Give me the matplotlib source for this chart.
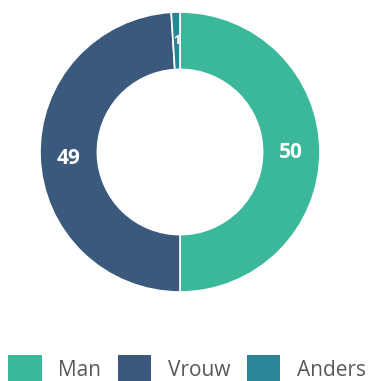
import matplotlib.pyplot as plt
from matplotlib.patches import Patch

labels = ['Man', 'Vrouw', 'Anders']
values = [50, 49, 1]
colors = ['#3bb89a', '#3a597d', '#2b8598']

plt.rcParams['font.family'] = ['Open Sans', 'DejaVu Sans']

fig = plt.figure(figsize=(3.69, 3.81), dpi=100)
ax = fig.add_axes([40 / 369, 89 / 381, 280 / 369, 280 / 381])

wedges, texts, autotexts = ax.pie(
    values, colors=colors, startangle=90, counterclock=False,
    autopct=lambda p: f'{p:.0f}', pctdistance=0.795,
    wedgeprops=dict(width=0.41, edgecolor='white', linewidth=1.2),
)
for t, v in zip(autotexts, values):
    t.set_color('white')
    t.set_fontweight('bold')
    t.set_fontsize(15 if v > 5 else 9)
# small nudge on the left label
x, y = autotexts[1].get_position()
autotexts[1].set_position((x, y - 0.02))
ax.set_aspect('equal')
ax.set_xlim(-1, 1)
ax.set_ylim(-1, 1)

handles = [Patch(facecolor=c, edgecolor='none') for c in colors]
fig.legend(handles, labels, loc='center', bbox_to_anchor=(0.507, 0.032),
           ncol=3, frameon=False, fontsize=15, labelcolor='#595959',
           handlelength=1.6, handleheight=1.6, handletextpad=0.8,
           columnspacing=0.8, borderaxespad=0, borderpad=0)

fig.savefig('out.png', dpi=100)
